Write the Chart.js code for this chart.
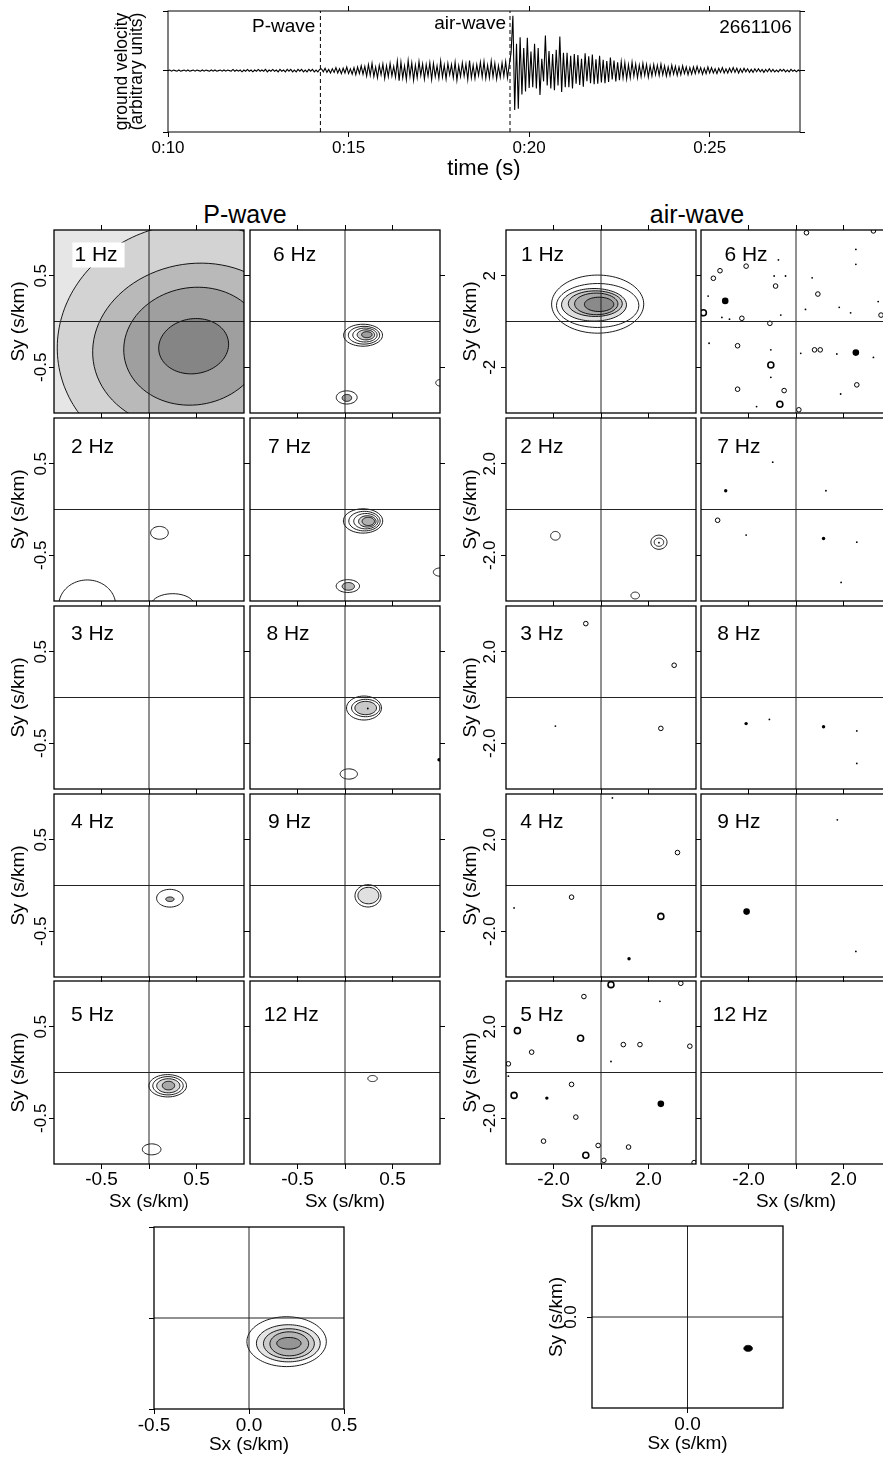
<!DOCTYPE html>
<html>
<head>
<meta charset="utf-8">
<title>Slowness spectra 2661106</title>
<script src="https://cdn.jsdelivr.net/npm/chart.js@4.4.1/dist/chart.umd.min.js"></script>
<style>
  html, body { margin: 0; padding: 0; background: #fff; }
  body { position: relative; width: 883px; height: 1457px; overflow: hidden; font-family: "Liberation Sans", Arial, sans-serif; }
  .box { position: absolute; }
  .box canvas { display: block; }
  .head { position: absolute; top: 199px; width: 200px; margin-left: -100px; text-align: center; font-size: 25px; line-height: 30px; color: #000; }
</style>
</head>
<body>
<div class="head" style="left:245px">P-wave</div>
<div class="head" style="left:697px">air-wave</div>
<script>
// ---- seismogram ----
const traceStart = 10;
const traceStep = 0.05;
// ground velocity, in hundredths of the upper half-axis
const traceVals = [
  0,1,-1,1,0,-1,1,-1,0,1,-1,1,-1,0,1,-1,1,0,-1,1,
  -1,1,0,-1,1,-1,1,-1,0,1,-1,1,-1,1,0,-1,2,-1,1,-1,
  1,-2,1,-1,2,-1,1,-2,1,-1,2,-1,1,-1,2,-2,1,-1,2,-1,
  1,-2,2,-1,1,-2,2,-1,2,-2,1,-2,2,-1,2,-2,1,-2,2,-1,
  2,-2,1,-2,2,
  3,-2,4,-3,2,-4,3,-3,5,-4,3,-5,4,-4,6,-5,3,-6,5,-7,6,-5,8,-6,7,-9,
  10,-8,12,-10,6,-12,9,-7,11,-13,8,-10,12,-9,7,-11,
  16,-17,14,-12,8,-15,17,-10,13,-16,9,-12,15,-8,11,-14,10,-9,13,-15,
  12,-10,8,-13,16,-11,9,-14,12,-7,10,-12,14,-16,8,-10,13,-9,11,-15,
  17,-12,9,-13,10,-8,14,-11,15,-13,9,-12,16,-10,12,-14,8,-11,13,-9,
  15,-12,10,
  30,92,-66,45,-64,56,-40,38,-35,55,-29,
  32,-28,45,-30,38,-41,20,-18,59,-25,33,-30,28,-33,35,-25,57,-36,30,-28,
  30,-28,25,-30,28,-22,26,-24,20,-27,29,-18,24,-21,27,-23,19,-22,25,-20,
  18,-21,16,-19,22,-15,17,-18,14,-16,
  15,-12,13,-14,10,-12,14,-9,11,-12,9,-10,12,-8,10,-11,8,-9,10,-7,
  9,-8,11,-7,8,-9,6,-8,9,-6,7,-8,6,-7,8,-5,6,-7,5,-6,
  6,-5,7,-4,5,-6,4,-5,6,-4,5,-4,3,-5,4,-3,5,-4,3,-4,
  4,-3,5,-3,4,-4,3,-3,4,-2,3,-3,2,-3,3,-2,3,-2,2,-3,
  2,-2,3,-2,2,-2,1,-2,2,-1,2,-2,1,-2,2,-1,1,-2,1,-1
];
const timeTicks = [10, 15, 20, 25];
const timeTickLabels = ['0:10', '0:15', '0:20', '0:25'];
const pArrival = 14.22;
const airArrival = 19.47;
const eventId = '2661106';

// ---- slowness contours: [sx, sy, rx, ry, tiltDeg, fill] ----
const pw1Hz = [[0.45,-0.25,1.42,1.32,12,'#d3d3d3'], [0.47,-0.27,1.07,0.9,12,'#b9b9b9'], [0.47,-0.27,0.74,0.64,12,'#9f9f9f'], [0.47,-0.27,0.37,0.30,10,'#858585']];
const pw2Hz = [[0.11,-0.255,0.093,0.07,0,null], [-0.65,-1.05,0.3,0.28,0,null], [0.25,-1.05,0.23,0.13,0,null]];
const pw3Hz = [];
const pw4Hz = [[0.22,-0.139,0.14,0.097,0,null], [0.22,-0.15,0.044,0.025,0,'#a8a8a8']];
const pw5Hz = [[0.197,-0.145,0.198,0.122,0,null], [0.2,-0.145,0.16,0.1,0,null], [0.203,-0.145,0.122,0.077,0,'#d8d8d8'], [0.205,-0.143,0.065,0.047,0,'#a8a8a8'], [0.028,-0.84,0.098,0.06,0,null]];
const pw6Hz = [[0.19,-0.15,0.205,0.12,0,null], [0.2,-0.15,0.165,0.097,0,null], [0.21,-0.148,0.128,0.076,0,null], [0.22,-0.146,0.092,0.055,0,'#d0d0d0'], [0.23,-0.144,0.055,0.033,0,'#a0a0a0'],
               [0.018,-0.83,0.11,0.072,0,null], [0.02,-0.835,0.05,0.038,0,'#a8a8a8'], [1.0,-0.67,0.045,0.035,0,null]];
const pw7Hz = [[0.19,-0.125,0.207,0.133,0,null], [0.205,-0.127,0.165,0.107,0,null], [0.22,-0.128,0.128,0.084,0,null], [0.235,-0.13,0.092,0.062,0,'#d4d4d4'], [0.245,-0.13,0.065,0.045,0,'#b0b0b0'],
               [0.03,-0.837,0.123,0.07,0,null], [0.035,-0.84,0.065,0.042,0,'#b8b8b8'], [1.0,-0.684,0.07,0.045,0,null]];
const pw8Hz = [[0.2,-0.115,0.184,0.131,0,null], [0.218,-0.115,0.149,0.095,0,null], [0.218,-0.115,0.114,0.073,0,'#c8c8c8'], [0.04,-0.836,0.091,0.056,0,null]];
const pw9Hz = [[0.242,-0.113,0.137,0.122,0,null], [0.246,-0.11,0.11,0.09,0,'#e0e0e0']];
const pw12Hz = [[0.29,-0.066,0.05,0.033,0,null]];
const aw1Hz = [[-0.14,0.76,1.94,1.27,0,null], [-0.14,0.7,1.734,0.96,0,null], [-0.294,0.73,1.368,0.713,0,'#dedede'], [-0.24,0.78,1.136,0.56,0,'#c4c4c4'], [-0.2,0.77,0.912,0.473,0,'#a9a9a9'], [-0.08,0.75,0.618,0.313,0,'#8a8a8a']];
const aw2Hz = [[-1.92,-1.15,0.2,0.19,0,null], [2.44,-1.43,0.34,0.31,0,null], [2.44,-1.43,0.2,0.18,0,null], [1.44,-3.76,0.18,0.15,0,null]];
const blContours = [[0.198,-0.13,0.209,0.137,0,null], [0.207,-0.139,0.168,0.102,0,'#e4e4e4'], [0.21,-0.141,0.134,0.082,0,'#cccccc'], [0.212,-0.142,0.102,0.066,0,'#b4b4b4'], [0.21,-0.139,0.064,0.032,0,'#959595']];
const brContours = [[1.27,-0.69,0.09,0.066,0,'#000']];

// ---- isolated tiny contours: [sx, sy, kind]  r ring, R double ring, d dot, b blob, B big blob ----
const pw8HzSpots = [[0.24,-0.12,'d'], [0.99,-0.68,'b']];
const aw2HzSpots = [[2.44,-1.45,'d']];
const aw3HzSpots = [[-0.64,3.23,'r'], [3.08,1.41,'r'], [-1.92,-1.25,'d'], [2.52,-1.35,'r']];
const aw4HzSpots = [[0.48,3.83,'d'], [3.22,1.44,'r'], [-1.24,-0.51,'r'], [-3.66,-0.98,'d'], [2.52,-1.35,'R'], [1.18,-3.2,'b']];
const aw5HzSpots = [[0.42,3.84,'R'], [3.36,3.9,'r'], [-0.72,3.32,'r'], [2.48,3.11,'d'], [-3.52,1.83,'R'], [-0.86,1.5,'R'], [-2.92,0.89,'r'], [0.94,1.22,'r'],
  [1.64,1.22,'r'], [3.74,1.15,'r'], [-3.9,0.38,'r'], [0.42,0.48,'d'], [-3.9,-0.16,'d'], [-1.24,-0.52,'r'], [-3.66,-1.0,'R'], [-2.28,-1.12,'b'],
  [2.52,-1.37,'B'], [-1.06,-1.95,'r'], [-2.42,-3.0,'r'], [-0.12,-3.19,'r'], [1.16,-3.26,'r'], [-0.64,-3.62,'R'], [0.12,-3.84,'r'], [3.92,-3.94,'r']];
const aw6HzSpots = [[0.44,3.88,'r'], [3.26,3.96,'r'], [-2.1,2.42,'r'], [-0.92,1.99,'d'], [-0.44,1.99,'d'], [-3.2,2.22,'r'], [-3.48,1.89,'r'], [-0.86,1.55,'r'],
  [2.52,3.15,'d'], [2.52,2.5,'d'], [0.68,1.91,'d'], [0.92,1.2,'r'], [1.82,0.62,'d'], [2.3,0.38,'d'], [0.4,0.53,'d'], [-3.7,1.11,'d'], [-2.98,0.9,'B'],
  [-3.9,0.38,'R'], [-3.12,0.18,'d'], [-2.8,0.1,'d'], [-2.28,0.14,'r'], [-0.64,0.28,'d'], [-1.1,-0.08,'r'], [3.58,0.28,'r'], [3.46,0.87,'d'],
  [-3.66,-0.95,'d'], [-2.46,-1.06,'r'], [-1.06,-1.24,'d'], [0.2,-1.39,'d'], [0.78,-1.24,'r'], [1.02,-1.24,'r'], [1.72,-1.42,'d'], [2.52,-1.36,'B'],
  [3.26,-1.57,'d'], [-1.06,-1.9,'R'], [-1.06,-2.44,'d'], [-0.5,-3.02,'r'], [-2.46,-2.96,'r'], [-0.68,-3.62,'R'], [1.88,-3.17,'d'], [2.56,-2.77,'r'],
  [0.12,-3.86,'r'], [-1.66,-3.72,'d'], [-0.74,2.69,'d']];
const aw7HzSpots = [[-0.98,2.07,'d'], [-2.96,0.82,'b'], [1.26,0.82,'d'], [-3.3,-0.47,'r'], [-2.1,-1.12,'d'], [1.16,-1.27,'b'], [2.56,-1.43,'d'], [1.9,-3.19,'d']];
const aw8HzSpots = [[-2.1,-1.14,'b'], [-1.12,-0.96,'d'], [1.16,-1.28,'b'], [2.56,-1.46,'d'], [2.56,-2.88,'d']];
const aw9HzSpots = [[1.74,2.87,'d'], [-2.08,-1.14,'B'], [2.52,-2.88,'d']];

// ---- tick values and labels ----
const pwXTicks = [-0.5, 0, 0.5];
const pwXTickLabels = ['-0.5', '', '0.5'];
const pwYTicks = [-0.5, 0.5];
const pwYTickLabels = ['-0.5', '0.5'];
const awXTicks = [-2, 0, 2];
const awXTickLabels = ['-2.0', '', '2.0'];
const awYTicks = [-2, 2];
const awYTickLabelsTop = ['-2', '2'];
const awYTickLabels = ['-2.0', '2.0'];
const blTicks = [-0.5, 0, 0.5];
const blXTickLabels = ['-0.5', '0.0', '0.5'];
const brTicks = [0];
const brTickLabels = ['0.0'];

Chart.defaults.font.family = '"Liberation Sans", Arial, Helvetica, sans-serif';
Chart.defaults.color = '#000';

// frame around the plot area, optional background, and in-plot text
const framePlugin = {
  id: 'frame',
  beforeDatasetsDraw(chart, args, o) {
    if (!o.bg) return;
    const a = chart.chartArea, ctx = chart.ctx;
    ctx.save();
    ctx.fillStyle = o.bg;
    ctx.fillRect(a.left, a.top, a.right - a.left, a.bottom - a.top);
    ctx.restore();
  },
  afterDatasetsDraw(chart, args, o) {
    const a = chart.chartArea, ctx = chart.ctx;
    ctx.save();
    ctx.strokeStyle = '#000';
    ctx.lineWidth = o.lineWidth || 1.3;
    ctx.strokeRect(a.left, a.top, a.right - a.left, a.bottom - a.top);
    (o.notes || []).forEach(n => {
      ctx.font = n.size + 'px "Liberation Sans", Arial, sans-serif';
      ctx.textAlign = n.align;
      ctx.textBaseline = 'middle';
      const x = n.xv !== undefined ? chart.scales.x.getPixelForValue(n.xv) + n.dx : a.left + n.dx;
      const y = a.top + n.dy;
      if (n.box) {
        const w = ctx.measureText(n.text).width;
        ctx.fillStyle = '#fff';
        ctx.fillRect(x - w / 2 - 2, y - 12.5, w + 9, 25);
      }
      ctx.fillStyle = '#000';
      ctx.fillText(n.text, x, y);
    });
    ctx.restore();
  }
};

function axis(pos, min, max, ticks, o) {
  const horiz = pos === 'top' || pos === 'bottom';
  const cfg = {
    type: 'linear', axis: horiz ? 'x' : 'y', position: pos, min: min, max: max,
    afterBuildTicks: sc => { sc.ticks = ticks.map(v => ({ value: v })); },
    afterFit: sc => { if (horiz) sc.height = o.size || 0; else sc.width = o.size || 0; },
    grid: { drawOnChartArea: false, drawTicks: true, tickLength: 5, color: '#000', lineWidth: 1 },
    border: { display: false },
    ticks: {
      display: !!o.labels, autoSkip: false, color: '#000', font: { size: o.font || 19 }, padding: o.pad || 0,
      maxRotation: 0, callback: (v, i) => (o.labels ? o.labels[i] : '')
    },
    title: {
      display: !!o.title, text: o.title || '', color: '#000',
      font: { size: o.titleFont || 19, lineHeight: o.titleLH || 1.2 }, padding: o.titlePad || 0
    }
  };
  if (!horiz) Object.assign(cfg.ticks, { minRotation: 90, maxRotation: 90, crossAlign: 'center' });
  return cfg;
}

function outline(c) {
  const [cx, cy, rx, ry, tilt] = c;
  const a = tilt * Math.PI / 180, pts = [];
  for (let i = 0; i <= 48; i++) {
    const t = i / 48 * 2 * Math.PI;
    const ex = rx * Math.cos(t), ey = ry * Math.sin(t);
    pts.push({ x: cx + ex * Math.cos(a) - ey * Math.sin(a), y: cy + ex * Math.sin(a) + ey * Math.cos(a) });
  }
  return pts;
}

const spotStyle = {
  r: { pointRadius: 2.3, pointBackgroundColor: '#fff', pointBorderWidth: 1 },
  R: { pointRadius: 3, pointBackgroundColor: '#fff', pointBorderWidth: 1.6 },
  d: { pointRadius: 0.9, pointBackgroundColor: '#000', pointBorderWidth: 0 },
  b: { pointRadius: 1.7, pointBackgroundColor: '#000', pointBorderWidth: 0 },
  B: { pointRadius: 3.3, pointBackgroundColor: '#000', pointBorderWidth: 0 }
};

function makeBox(left, top, w, h) {
  const div = document.createElement('div');
  div.className = 'box';
  div.style.left = left + 'px';
  div.style.top = top + 'px';
  const cv = document.createElement('canvas');
  cv.width = w;
  cv.height = h;
  div.appendChild(cv);
  document.body.appendChild(div);
  return cv;
}

function makePanel(p) {
  const L = 54, T = 20, R = 20;
  const B = p.xLabels ? p.xSize : 20;
  const cv = makeBox(p.left - L, p.top - T, L + p.w + R, T + p.h + B);
  const lim = p.lim;
  const datasets = [
    { data: [{ x: 0, y: -lim }, { x: 0, y: lim }], showLine: true, pointRadius: 0, borderColor: '#222', borderWidth: 1, order: 0 },
    { data: [{ x: -lim, y: 0 }, { x: lim, y: 0 }], showLine: true, pointRadius: 0, borderColor: '#222', borderWidth: 1, order: 0 }
  ];
  p.contours.forEach((c, k) => datasets.push({
    data: outline(c), showLine: true, pointRadius: 0, borderColor: '#000', borderWidth: 0.9, tension: 0.3,
    backgroundColor: c[5] || 'rgba(0,0,0,0)', fill: c[5] ? 'shape' : false, order: 100 - k
  }));
  Object.keys(spotStyle).forEach(k => {
    const pts = (p.spots || []).filter(s => s[2] === k).map(s => ({ x: s[0], y: s[1] }));
    if (pts.length) datasets.push(Object.assign({ data: pts, showLine: false, pointBorderColor: '#000', order: 1 }, spotStyle[k]));
  });
  const scales = {
    x: axis('bottom', -lim, lim, p.xTicks, { labels: p.xLabels, size: p.xLabels ? p.xSize : 0, pad: p.xPad, font: 19,
      title: p.xLabels ? 'Sx (s/km)' : null, titlePad: { top: 0, bottom: 1 } }),
    y: axis('left', -lim, lim, p.yTicks, { labels: p.yLabels, size: p.yLabels ? L : 0, pad: p.yPad, font: 17,
      title: p.yTitle, titlePad: { top: 7 } })
  };
  if (p.outer) {
    scales.x2 = axis('top', -lim, lim, p.xTicks, {});
    scales.y2 = axis('right', -lim, lim, p.yTicks, {});
  }
  new Chart(cv, {
    type: 'scatter',
    data: { datasets },
    options: {
      responsive: false, animation: false, events: [],
      layout: { padding: { left: p.yLabels ? 0 : L, top: T, right: R, bottom: p.xLabels ? 0 : 20 } },
      plugins: {
        legend: { display: false }, tooltip: { enabled: false },
        frame: { bg: p.bg, notes: p.label ? [{ text: p.label, dx: p.labelDx, dy: p.labelDy, size: 21, align: 'center', box: p.labelBox }] : [] }
      },
      scales
    },
    plugins: [framePlugin]
  });
}

// ---- seismogram chart ----
(function () {
  const cv = makeBox(100, 0, 720, 184);
  new Chart(cv, {
    type: 'scatter',
    data: {
      datasets: [
        { data: traceVals.map((v, i) => ({ x: traceStart + i * traceStep, y: v / 100 })), showLine: true, pointRadius: 0, borderColor: '#000', borderWidth: 1.1 },
        { data: [{ x: pArrival, y: -1.03 }, { x: pArrival, y: 1 }], showLine: true, pointRadius: 0, borderColor: '#000', borderWidth: 1, borderDash: [4, 3] },
        { data: [{ x: airArrival, y: -1.03 }, { x: airArrival, y: 1 }], showLine: true, pointRadius: 0, borderColor: '#000', borderWidth: 1, borderDash: [4, 3] }
      ]
    },
    options: {
      responsive: false, animation: false, events: [],
      layout: { padding: { left: 0, top: 11, right: 20, bottom: 0 } },
      plugins: {
        legend: { display: false }, tooltip: { enabled: false },
        frame: {
          lineWidth: 1,
          notes: [
            { text: 'P-wave', xv: pArrival, dx: -5, dy: 16, size: 19, align: 'right' },
            { text: 'air-wave', xv: airArrival, dx: -4, dy: 12.3, size: 19, align: 'right' },
            { text: eventId, xv: 27.5, dx: -8.3, dy: 16.8, size: 19, align: 'right' }
          ]
        }
      },
      scales: {
        x: axis('bottom', 10, 27.5, timeTicks, { labels: timeTickLabels, font: 17, pad: 1.5, size: 52, title: 'time (s)', titleFont: 22, titlePad: { top: 0, bottom: 2 } }),
        x2: axis('top', 10, 27.5, [15, 20, 25], {}),
        y: axis('left', -1.03, 1, [-1.03, 0, 1], { size: 68, title: ['ground velocity', '(arbitrary units)'], titleFont: 17.5, titleLH: 0.9, titlePad: { top: 13.8 } }),
        y2: axis('right', -1.03, 1, [-1.03, 0, 1], {})
      }
    },
    plugins: [framePlugin]
  });
})();

// ---- grid of slowness panels ----
const rowTops = [230, 418, 606, 794, 981];
const labelDy = [25, 29, 28, 28.5, 34];
const columns = [
  { left: 54, lim: 1, yAxis: true, panels: [[pw1Hz, [], '1 Hz', 42], [pw2Hz, [], '2 Hz', 38.5], [pw3Hz, [], '3 Hz', 38.5], [pw4Hz, [], '4 Hz', 38.5], [pw5Hz, [], '5 Hz', 38.5]] },
  { left: 250, lim: 1, yAxis: false, panels: [[pw6Hz, [], '6 Hz', 44.7], [pw7Hz, [], '7 Hz', 39.5], [pw8Hz, pw8HzSpots, '8 Hz', 38], [pw9Hz, [], '9 Hz', 39.5], [pw12Hz, [], '12 Hz', 41.3]] },
  { left: 506, lim: 4, yAxis: true, panels: [[aw1Hz, [], '1 Hz', 36.5], [aw2Hz, aw2HzSpots, '2 Hz', 35.8], [[], aw3HzSpots, '3 Hz', 35.8], [[], aw4HzSpots, '4 Hz', 35.8], [[], aw5HzSpots, '5 Hz', 35.8]] },
  { left: 701, lim: 4, yAxis: false, panels: [[[], aw6HzSpots, '6 Hz', 45], [[], aw7HzSpots, '7 Hz', 37.8], [[], aw8HzSpots, '8 Hz', 37.8], [[], aw9HzSpots, '9 Hz', 37.8], [[], [], '12 Hz', 39.3]] }
];
columns.forEach((col, ci) => {
  const isP = col.lim === 1;
  col.panels.forEach((pn, r) => {
    let yLabels = null, yPad = 0;
    if (col.yAxis) {
      if (isP) { yLabels = pwYTickLabels; yPad = -7.35; }
      else if (r === 0) { yLabels = awYTickLabelsTop; yPad = 2.65; }
      else { yLabels = awYTickLabels; yPad = -3.65; }
    }
    makePanel({
      left: col.left, top: rowTops[r], w: 190, h: 183, lim: col.lim,
      contours: pn[0], spots: pn[1], label: pn[2], labelDx: pn[3], labelDy: labelDy[r],
      bg: ci === 0 && r === 0 ? '#e6e6e6' : null, labelBox: ci === 0 && r === 0,
      xTicks: isP ? pwXTicks : awXTicks, xLabels: r === 4 ? (isP ? pwXTickLabels : awXTickLabels) : null, xSize: 50, xPad: -1,
      yTicks: isP ? pwYTicks : awYTicks, yLabels: yLabels, yPad: yPad, yTitle: yLabels ? 'Sy (s/km)' : null,
      outer: true
    });
  });
});

// ---- stacked panels at the bottom ----
makePanel({
  left: 154, top: 1227, w: 190, h: 182, lim: 0.5, contours: blContours, spots: [],
  xTicks: blTicks, xLabels: blXTickLabels, xSize: 48, xPad: 0,
  yTicks: blTicks, yLabels: null, outer: false
});
makePanel({
  left: 592, top: 1226, w: 191, h: 182, lim: 2, contours: brContours, spots: [],
  xTicks: brTicks, xLabels: brTickLabels, xSize: 48, xPad: 0,
  yTicks: brTicks, yLabels: brTickLabels, yPad: 3.8, yTitle: 'Sy (s/km)', outer: false
});
</script>
</body>
</html>
